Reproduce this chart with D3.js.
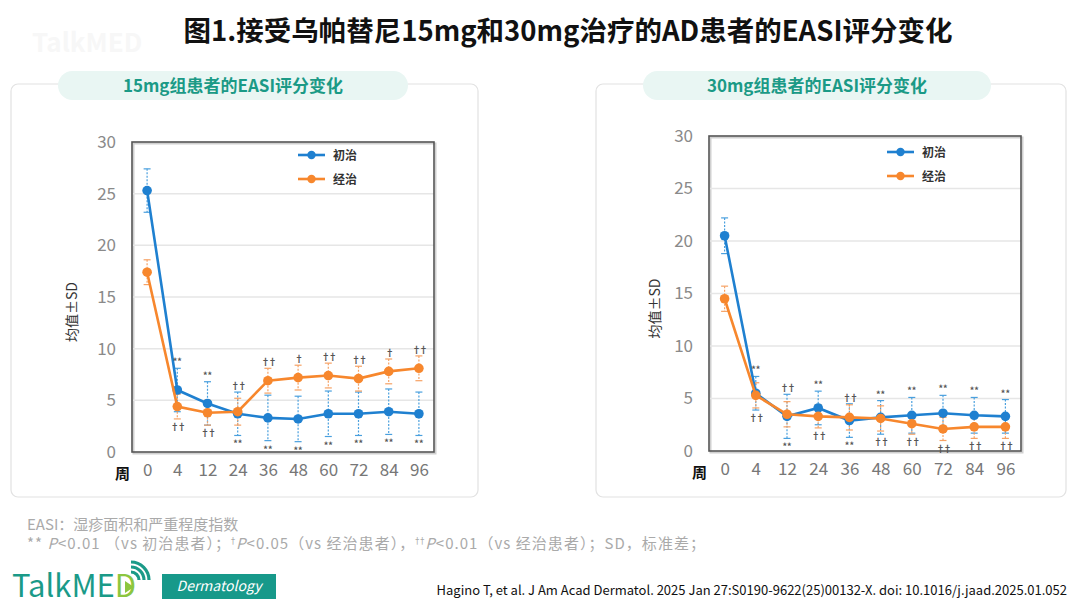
<!DOCTYPE html>
<html>
<head>
<meta charset="utf-8">
<script src="https://cdn.jsdelivr.net/npm/d3@7"></script>
<style>
  body { margin: 0; background: #fff; }
  text { font-family: "Noto Sans CJK SC", "Noto Sans", sans-serif; }
</style>
</head>
<body>
<div id="chart"></div>
<script>
// EASI change, upadacitinib 15mg / 30mg
const weeks = ["0", "4", "12", "24", "36", "48", "60", "72", "84", "96"];
const yTicks = [0, 5, 10, 15, 20, 25, 30];

// 15mg group
const naive15 = [25.3, 6.0, 4.7, 3.7, 3.3, 3.2, 3.7, 3.7, 3.9, 3.7];
const naive15Sd = [2.1, 2.1, 2.1, 2.1, 2.2, 2.2, 2.2, 2.1, 2.2, 2.1];
const exp15 = [17.4, 4.4, 3.8, 3.9, 6.9, 7.2, 7.4, 7.1, 7.8, 8.1];
const exp15Sd = [1.2, 1.2, 1.2, 1.3, 1.2, 1.2, 1.2, 1.2, 1.2, 1.2];
const sig15Top = ["", "**", "**", "††", "††", "†", "††", "††", "†", "††"];
const sig15Bottom = ["", "††", "††", "**", "**", "**", "**", "**", "**", "**"];

// 30mg group
const naive30 = [20.5, 5.5, 3.3, 4.1, 2.9, 3.2, 3.4, 3.6, 3.4, 3.3];
const naive30Sd = [1.7, 1.6, 2.1, 1.6, 1.6, 1.6, 1.7, 1.7, 1.7, 1.6];
const exp30 = [14.5, 5.3, 3.5, 3.3, 3.2, 3.1, 2.6, 2.1, 2.3, 2.3];
const exp30Sd = [1.2, 1.2, 1.2, 1.1, 1.2, 1.2, 1.0, 1.1, 1.1, 1.1];
const sig30Top = ["", "**", "††", "**", "††", "**", "**", "**", "**", "**"];
const sig30Bottom = ["", "††", "**", "††", "**", "††", "††", "††", "††", "††"];

const seriesNames = ["初治", "经治"];
const blue = "#1f80d0", orange = "#f7872d";
const blueErr = "#4aa0de", orangeErr = "#f6a265";

const width = 1080, height = 608;
const svg = d3.select("#chart").append("svg")
    .attr("width", width)
    .attr("height", height);

// faint watermark
svg.append("text")
    .attr("x", 32).attr("y", 52)
    .attr("font-size", 26).attr("font-weight", "bold")
    .attr("fill", "#f7f7f7")
    .text("TalkMED");

// main title
svg.append("text")
    .attr("x", 568).attr("y", 41)
    .attr("text-anchor", "middle")
    .attr("font-size", 27.5)
    .attr("font-weight", "bold")
    .attr("fill", "#111")
    .text("图1.接受乌帕替尼15mg和30mg治疗的AD患者的EASI评分变化");

function drawPanel(cfg) {
    // card
    svg.append("rect")
        .attr("x", cfg.card[0]).attr("y", cfg.card[1])
        .attr("width", cfg.card[2]).attr("height", cfg.card[3])
        .attr("rx", 7)
        .attr("fill", "#fff")
        .attr("stroke", "#e2e2e2")
        .attr("stroke-width", 1.2);

    // pill title
    svg.append("rect")
        .attr("x", cfg.pill[0]).attr("y", cfg.pill[1])
        .attr("width", cfg.pill[2]).attr("height", cfg.pill[3])
        .attr("rx", cfg.pill[3] / 2)
        .attr("fill", "#e9f6f3");
    svg.append("text")
        .attr("x", cfg.pill[0] + cfg.pill[2] / 2)
        .attr("y", cfg.pill[1] + cfg.pill[3] / 2 + 6)
        .attr("text-anchor", "middle")
        .attr("font-size", 17)
        .attr("font-weight", "bold")
        .attr("fill", "#1b9a86")
        .text(cfg.title);

    const x = d3.scalePoint().domain(weeks).range(cfg.xRange).padding(0.5);
    const y = d3.scaleLinear().domain([0, 30]).range(cfg.yRange);

    const g = svg.append("g");

    // frame shadow
    g.append("rect")
        .attr("x", cfg.xRange[0] + 1.5).attr("y", cfg.yRange[1] + 1.5)
        .attr("width", cfg.xRange[1] - cfg.xRange[0])
        .attr("height", cfg.yRange[0] - cfg.yRange[1])
        .attr("fill", "none")
        .attr("stroke", "#d0d0d0")
        .attr("stroke-width", 2);

    // gridlines
    g.selectAll(".grid")
        .data(yTicks.slice(1, -1))
        .enter()
        .append("line")
        .attr("x1", cfg.xRange[0]).attr("x2", cfg.xRange[1])
        .attr("y1", d => y(d)).attr("y2", d => y(d))
        .attr("stroke", "#e6e6e6")
        .attr("stroke-width", 1.5);

    // y axis
    const yAxis = g.append("g")
        .attr("transform", `translate(${cfg.xRange[0] - 16},0)`)
        .call(d3.axisLeft(y).tickValues(yTicks).tickSize(0).tickPadding(0));
    yAxis.select(".domain").remove();
    yAxis.selectAll("text")
        .attr("font-family", "Lato, 'Open Sans', sans-serif")
        .attr("font-size", 17)
        .attr("fill", "#8a8a8a");

    // x axis
    const xAxis = g.append("g")
        .attr("transform", `translate(0,${cfg.yRange[0] + 12})`)
        .call(d3.axisBottom(x).tickSize(0).tickPadding(0));
    xAxis.select(".domain").remove();
    xAxis.selectAll("text")
        .attr("font-family", "Lato, 'Open Sans', sans-serif")
        .attr("font-size", 17)
        .attr("fill", "#777");

    g.append("text")
        .attr("x", cfg.xRange[0] - 17).attr("y", cfg.yRange[0] + 27)
        .attr("font-size", 15).attr("font-weight", "bold")
        .attr("fill", "#111")
        .text("周");

    g.append("text")
        .attr("transform", `translate(${cfg.yLabelX},${(cfg.yRange[0] + cfg.yRange[1]) / 2 + 15}) rotate(-90)`)
        .attr("text-anchor", "middle")
        .attr("font-size", 14)
        .attr("fill", "#333")
        .text("均值±SD");

    const series = [
        { mean: cfg.naive, sd: cfg.naiveSd, color: blue, err: blueErr },
        { mean: cfg.exp, sd: cfg.expSd, color: orange, err: orangeErr }
    ];

    // error bars
    series.forEach(function (s) {
        const eb = g.selectAll(null)
            .data(weeks)
            .enter()
            .append("g")
            .attr("stroke", s.err)
            .attr("stroke-width", 1.2);
        eb.append("line")
            .attr("x1", d => x(d)).attr("x2", d => x(d))
            .attr("y1", (d, i) => y(s.mean[i] + s.sd[i]))
            .attr("y2", (d, i) => y(s.mean[i] - s.sd[i]))
            .attr("stroke-dasharray", "2,1.5");
        eb.append("line")
            .attr("x1", d => x(d) - 3.5).attr("x2", d => x(d) + 3.5)
            .attr("y1", (d, i) => y(s.mean[i] + s.sd[i]))
            .attr("y2", (d, i) => y(s.mean[i] + s.sd[i]));
        eb.append("line")
            .attr("x1", d => x(d) - 3.5).attr("x2", d => x(d) + 3.5)
            .attr("y1", (d, i) => y(s.mean[i] - s.sd[i]))
            .attr("y2", (d, i) => y(s.mean[i] - s.sd[i]));
    });

    // lines + dots
    series.forEach(function (s) {
        const line = d3.line()
            .x((d, i) => x(weeks[i]))
            .y(d => y(d));
        g.append("path")
            .datum(s.mean)
            .attr("d", line)
            .attr("fill", "none")
            .attr("stroke", s.color)
            .attr("stroke-width", 2.6);
        g.selectAll(null)
            .data(s.mean)
            .enter()
            .append("circle")
            .attr("cx", (d, i) => x(weeks[i]))
            .attr("cy", d => y(d))
            .attr("r", 4.8)
            .attr("fill", s.color);
    });

    // significance marks
    weeks.forEach(function (w, i) {
        const top = d3.max(series, s => s.mean[i] + s.sd[i]);
        const bottom = d3.min(series, s => s.mean[i] - s.sd[i]);
        [[cfg.sigTop[i], y(top) - 3], [cfg.sigBottom[i], y(bottom) + (cfg.sigBottom[i] === "**" ? 12 : 11)]]
            .forEach(function (m) {
                g.append("text")
                    .attr("x", x(w)).attr("y", m[1])
                    .attr("text-anchor", "middle")
                    .attr("font-family", "'DejaVu Sans', sans-serif")
                    .attr("font-size", 9).attr("font-weight", "bold")
                    .attr("letter-spacing", m[0].startsWith("†") ? -2 : 0)
                    .attr("fill", "#555")
                    .text(m[0]);
            });
    });

    // frame
    g.append("rect")
        .attr("x", cfg.xRange[0]).attr("y", cfg.yRange[1])
        .attr("width", cfg.xRange[1] - cfg.xRange[0])
        .attr("height", cfg.yRange[0] - cfg.yRange[1])
        .attr("fill", "none")
        .attr("stroke", "#555")
        .attr("stroke-width", 1.6);

    // legend
    series.forEach(function (s, k) {
        const ly = cfg.legend[1] + k * 24;
        g.append("line")
            .attr("x1", cfg.legend[0]).attr("x2", cfg.legend[0] + 27)
            .attr("y1", ly).attr("y2", ly)
            .attr("stroke", s.color).attr("stroke-width", 2.6);
        g.append("circle")
            .attr("cx", cfg.legend[0] + 13.5).attr("cy", ly)
            .attr("r", 4.2).attr("fill", s.color);
        g.append("text")
            .attr("x", cfg.legend[0] + 35).attr("y", ly + 4.5)
            .attr("font-size", 12).attr("font-weight", "bold")
            .attr("fill", "#333")
            .text(seriesNames[k]);
    });
}

drawPanel({
    card: [11, 84, 467, 413],
    pill: [58, 71, 350, 29],
    title: "15mg组患者的EASI评分变化",
    xRange: [132, 434],
    yRange: [452, 142],
    yLabelX: 77,
    legend: [298, 155],
    naive: naive15, naiveSd: naive15Sd,
    exp: exp15, expSd: exp15Sd,
    sigTop: sig15Top, sigBottom: sig15Bottom
});

drawPanel({
    card: [596, 84, 470, 413],
    pill: [643, 71, 348, 29],
    title: "30mg组患者的EASI评分变化",
    xRange: [709, 1021],
    yRange: [451, 136],
    yLabelX: 660,
    legend: [887, 152],
    naive: naive30, naiveSd: naive30Sd,
    exp: exp30, expSd: exp30Sd,
    sigTop: sig30Top, sigBottom: sig30Bottom
});

// footnotes
svg.append("text")
    .attr("x", 27).attr("y", 530)
    .attr("font-size", 15).attr("fill", "#aaa")
    .text("EASI：湿疹面积和严重程度指数");

const note = svg.append("text")
    .attr("x", 27).attr("y", 549)
    .attr("font-size", 15).attr("fill", "#aaa")
    .attr("textLength", 678)
    .attr("lengthAdjust", "spacing");
note.append("tspan").text("** ");
note.append("tspan").attr("font-style", "italic").text("P");
note.append("tspan").text("<0.01 （vs 初治患者）；");
note.append("tspan").attr("font-family", "'DejaVu Sans', sans-serif").attr("font-size", 8).attr("dy", -5).text("†");
note.append("tspan").attr("font-style", "italic").attr("dy", 5).text("P");
note.append("tspan").text("<0.05（vs 经治患者），");
note.append("tspan").attr("font-family", "'DejaVu Sans', sans-serif").attr("font-size", 8).attr("dy", -5).text("††");
note.append("tspan").attr("font-style", "italic").attr("dy", 5).text("P");
note.append("tspan").text("<0.01（vs 经治患者）；SD，标准差；");

// citation
svg.append("text")
    .attr("x", 1067).attr("y", 595)
    .attr("text-anchor", "end")
    .attr("font-family", "Roboto, sans-serif")
    .attr("font-size", 13)
    .attr("fill", "#111")
    .text("Hagino T, et al. J Am Acad Dermatol. 2025 Jan 27:S0190-9622(25)00132-X. doi: 10.1016/j.jaad.2025.01.052");

// logo
const logo = svg.append("g");
const brand = logo.append("text")
    .attr("x", 12).attr("y", 597)
    .attr("font-family", "Roboto, sans-serif")
    .attr("font-size", 31)
    .attr("fill", "#1a9a88");
brand.append("tspan").text("TalkME");
brand.append("tspan").attr("fill", "#8cc63f").text("D");
logo.append("path")
    .attr("d", "M125,581 L134,587 L125,593 Z")
    .attr("fill", "#8cc63f");
[8, 13, 18].forEach(function (r) {
    logo.append("path")
        .attr("d", d3.arc()({ innerRadius: r - 1.6, outerRadius: r + 1.6, startAngle: 0, endAngle: Math.PI / 2 }))
        .attr("transform", "translate(131,580)")
        .attr("fill", "#1a9a88");
});
logo.append("rect")
    .attr("x", 162).attr("y", 574)
    .attr("width", 114).attr("height", 25)
    .attr("fill", "#17998a");
logo.append("text")
    .attr("x", 219).attr("y", 591)
    .attr("text-anchor", "middle")
    .attr("font-family", "'DejaVu Serif', serif")
    .attr("font-style", "italic")
    .attr("font-size", 14)
    .attr("fill", "#fff")
    .text("Dermatology");
</script>
</body>
</html>
